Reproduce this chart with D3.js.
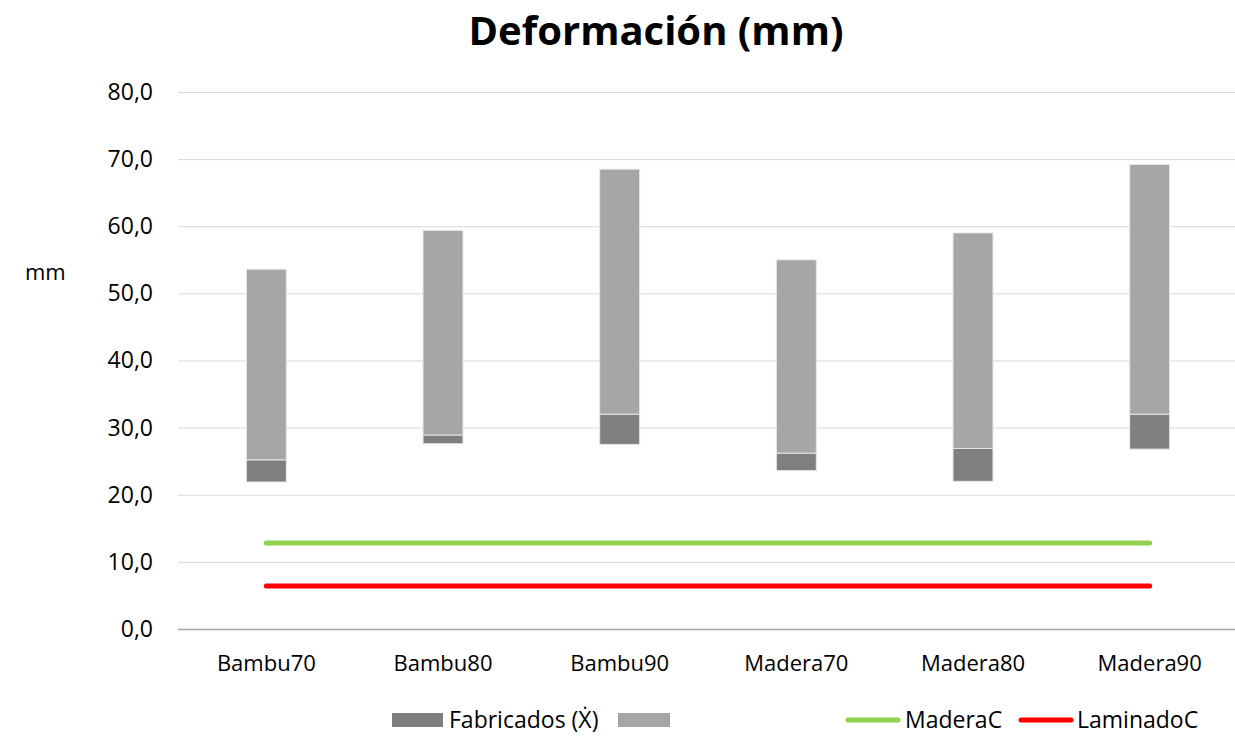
<!DOCTYPE html>
<html>
<head>
<meta charset="utf-8">
<script src="https://cdn.jsdelivr.net/npm/d3@7"></script>
<style>
  body { margin: 0; background: #fff; }
  text { font-family: "Open Sans", sans-serif; fill: #000; }
</style>
</head>
<body>
<svg width="1235" height="737"></svg>
<script>
var categories = ["Bambu70", "Bambu80", "Bambu90", "Madera70", "Madera80", "Madera90"];
var minimos = [21.9, 27.6, 27.5, 23.6, 22.0, 26.8];
var medias = [25.2, 28.9, 32.0, 26.2, 26.9, 32.0];
var maximos = [53.6, 59.4, 68.5, 55.0, 59.0, 69.2];
var maderaC = [12.8, 12.8, 12.8, 12.8, 12.8, 12.8];
var laminadoC = [6.4, 6.4, 6.4, 6.4, 6.4, 6.4];
var yTicks = [0, 10, 20, 30, 40, 50, 60, 70, 80];

var svg = d3.select("svg");

var xScale = d3.scaleBand().domain(categories).range([178, 1238]).paddingInner(0.774).paddingOuter(0.387);
var yScale = d3.scaleLinear().domain([0, 80]).range([629, 92]);

// gridlines
svg.append("g").selectAll("line").data(yTicks).enter().append("line")
  .attr("x1", 178).attr("x2", 1238)
  .attr("y1", function (d) { return yScale(d) + 0.5; })
  .attr("y2", function (d) { return yScale(d) + 0.5; })
  .style("stroke", function (d) { return d == 0 ? "#a6a6a6" : "#d9d9d9"; })
  .style("stroke-width", function (d) { return d == 0 ? 1.5 : 1; });

// y axis labels
yAxis = d3.axisLeft(yScale).tickValues(yTicks).tickSize(0).tickPadding(0)
  .tickFormat(function (d) { return d3.format(".1f")(d).replace(".", ","); });
var yG = svg.append("g").attr("transform", "translate(153,0)").call(yAxis);
yG.select(".domain").remove();
yG.selectAll("text").style("font-size", "23px").style("font-family", "'Open Sans', sans-serif").attr("fill", "#000");

// x axis labels
xAxis = d3.axisBottom(xScale).tickSize(0).tickPadding(0);
var xG = svg.append("g").attr("transform", "translate(0,655)").call(xAxis);
xG.select(".domain").remove();
xG.selectAll("text").style("font-size", "22px").style("font-family", "'Open Sans', sans-serif").attr("fill", "#000");

// stacked bars: invisible base, dark segment, light segment
var barG = svg.append("g");
categories.forEach(function (c, i) {
  barG.append("rect")
    .attr("x", xScale(c)).attr("width", xScale.bandwidth())
    .attr("y", yScale(medias[i])).attr("height", yScale(minimos[i]) - yScale(medias[i]))
    .style("fill", "#7f7f7f").style("stroke", "#e6e6e6").style("stroke-width", 1);
  barG.append("rect")
    .attr("x", xScale(c)).attr("width", xScale.bandwidth())
    .attr("y", yScale(maximos[i])).attr("height", yScale(medias[i]) - yScale(maximos[i]))
    .style("fill", "#a6a6a6").style("stroke", "#e6e6e6").style("stroke-width", 1);
});

// lines
var line = d3.line()
  .x(function (d, i) { return xScale(categories[i]) + xScale.bandwidth() / 2; })
  .y(function (d) { return yScale(d); });

svg.append("path").datum(maderaC).attr("d", line)
  .style("fill", "none").style("stroke", "#92d050").style("stroke-width", 5).style("stroke-linecap", "round");
svg.append("path").datum(laminadoC).attr("d", line)
  .style("fill", "none").style("stroke", "#ff0000").style("stroke-width", 5).style("stroke-linecap", "round");

// title
svg.append("text").attr("x", 656).attr("y", 45).attr("text-anchor", "middle")
  .style("font-size", "40px").style("font-weight", "bold").text("Deformación (mm)");

// y label
svg.append("text").attr("x", 25).attr("y", 280).style("font-size", "22px").text("mm");

// legend
var lg = svg.append("g");
lg.append("rect").attr("x", 392).attr("y", 713).attr("width", 51).attr("height", 14).style("fill", "#7f7f7f");
lg.append("text").attr("x", 449).attr("y", 728).style("font-size", "23px").text("Fabricados (\u1E8A)");
lg.append("rect").attr("x", 618).attr("y", 713).attr("width", 52).attr("height", 14).style("fill", "#a6a6a6");
lg.append("line").attr("x1", 848).attr("x2", 898).attr("y1", 720).attr("y2", 720)
  .style("stroke", "#92d050").style("stroke-width", 5).style("stroke-linecap", "round");
lg.append("text").attr("x", 905).attr("y", 728).style("font-size", "23px").text("MaderaC");
lg.append("line").attr("x1", 1021).attr("x2", 1071).attr("y1", 720).attr("y2", 720)
  .style("stroke", "#ff0000").style("stroke-width", 5).style("stroke-linecap", "round");
lg.append("text").attr("x", 1077).attr("y", 728).style("font-size", "23px").text("LaminadoC");
</script>
</body>
</html>
